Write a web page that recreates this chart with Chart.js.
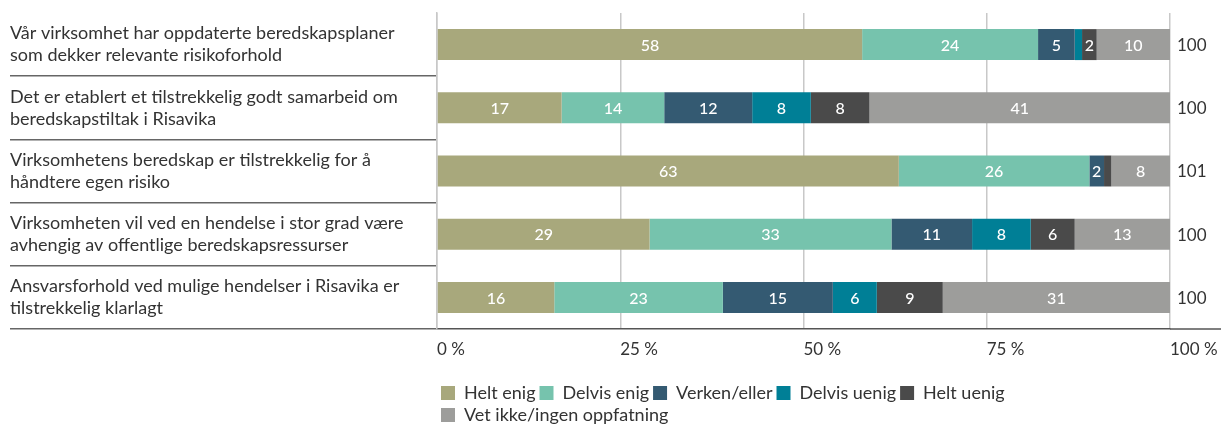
<!DOCTYPE html>
<html>
<head>
<meta charset="utf-8">
<script src="https://cdn.jsdelivr.net/npm/chart.js@4/dist/chart.umd.min.js"></script>
<style>
  html, body { margin: 0; padding: 0; background: #fff; overflow: hidden; }
  #wrap { width: 1221px; height: 434px; }
</style>
</head>
<body>
<div id="wrap"><canvas id="beredskapChart"></canvas></div>
<script>
// categories (statements)
const statements = [
    ['Vår virksomhet har oppdaterte beredskapsplaner', 'som dekker relevante risikoforhold'],
    ['Det er etablert et tilstrekkelig godt samarbeid om', 'beredskapstiltak i Risavika'],
    ['Virksomhetens beredskap er tilstrekkelig for å', 'håndtere egen risiko'],
    ['Virksomheten vil ved en hendelse i stor grad være', 'avhengig av offentlige beredskapsressurser'],
    ['Ansvarsforhold ved mulige hendelser i Risavika er', 'tilstrekkelig klarlagt']
];

// answers, percent per statement
const heltEnig     = [58, 17, 63, 29, 16];
const delvisEnig   = [24, 14, 26, 33, 23];
const verkenEller  = [5, 12, 2, 11, 15];
const delvisUenig  = [1, 8, 0, 8, 6];
const heltUenig    = [2, 8, 1, 6, 9];
const vetIkke      = [10, 41, 8, 13, 31];

// totals printed at the right of each bar
const totals = ['100', '100', '101', '100', '100'];

const xTicks = [0, 25, 50, 75, 100];

const fontFamily = 'Lato, "Open Sans", sans-serif';
Chart.defaults.font.family = fontFamily;
Chart.defaults.color = '#333';

// white numbers inside the bars
const barLabels = {
    id: 'barLabels',
    afterDatasetsDraw(chart) {
        const ctx = chart.ctx;
        ctx.save();
        ctx.fillStyle = '#fff';
        ctx.font = '500 16px ' + fontFamily;
        ctx.textAlign = 'center';
        ctx.textBaseline = 'middle';
        chart.data.datasets.forEach((ds, i) => {
            const meta = chart.getDatasetMeta(i);
            meta.data.forEach((bar, j) => {
                const v = ds.data[j];
                if (v < 2) return;
                const p = bar.getCenterPoint();
                ctx.fillText(String(v), p.x, p.y + 1);
            });
        });
        ctx.restore();
    }
};

// totals column + axis line extension to the right
const totalsColumn = {
    id: 'totalsColumn',
    afterDraw(chart) {
        const ctx = chart.ctx;
        const yScale = chart.scales.y;
        const xScale = chart.scales.x;
        ctx.save();
        ctx.fillStyle = '#333';
        ctx.font = '17px ' + fontFamily;
        ctx.textAlign = 'left';
        ctx.textBaseline = 'middle';
        totals.forEach((t, j) => {
            ctx.fillText(t, chart.chartArea.right + 7, yScale.getPixelForValue(j) + 1);
        });
        ctx.strokeStyle = '#555';
        ctx.lineWidth = 1.5;
        ctx.beginPath();
        ctx.moveTo(chart.chartArea.right, xScale.top);
        ctx.lineTo(chart.width, xScale.top);
        ctx.stroke();
        ctx.restore();
    }
};

function makeDataset(label, data, color) {
    return {
        label: label,
        data: data,
        backgroundColor: color,
        borderWidth: 0,
        barPercentage: 0.49,
        categoryPercentage: 1
    };
}

const ctx = document.getElementById('beredskapChart').getContext('2d');
const beredskapChart = new Chart(ctx, {
    type: 'bar',
    data: {
        labels: statements,
        datasets: [
            makeDataset('Helt enig', heltEnig, '#a8a87c'),
            makeDataset('Delvis enig', delvisEnig, '#76c3ad'),
            makeDataset('Verken/eller', verkenEller, '#345a72'),
            makeDataset('Delvis uenig', delvisUenig, '#007f96'),
            makeDataset('Helt uenig', heltUenig, '#4a4a4a'),
            makeDataset('Vet ikke/ingen oppfatning', vetIkke, '#9d9d9b')
        ]
    },
    plugins: [barLabels, totalsColumn],
    options: {
        indexAxis: 'y',
        responsive: true,
        maintainAspectRatio: false,
        animation: false,
        layout: {
            padding: { left: 10, right: 51, top: 13, bottom: 0 }
        },
        scales: {
            x: {
                stacked: true,
                min: 0,
                max: 100,
                afterBuildTicks: (scale) => {
                    scale.ticks = xTicks.map(v => ({ value: v }));
                },
                afterFit: (scale) => {
                    scale.height = 51;
                    scale.paddingLeft = 0;
                    scale.paddingRight = 0;
                },
                ticks: {
                    align: 'start',
                    padding: 10,
                    color: '#333',
                    font: { size: 17 },
                    callback: (v) => v + ' %'
                },
                grid: {
                    color: '#c8c8c8',
                    lineWidth: 1.5,
                    drawTicks: false
                },
                border: { color: '#555', width: 1.5 }
            },
            y: {
                stacked: true,
                afterFit: (scale) => {
                    scale.width = 427;
                    scale.paddingTop = 0;
                    scale.paddingBottom = 0;
                },
                ticks: {
                    crossAlign: 'far',
                    color: '#333',
                    font: { size: 18, lineHeight: 1.22 }
                },
                grid: {
                    offset: true,
                    drawOnChartArea: false,
                    tickLength: 427,
                    lineWidth: 1.5,
                    color: (c) => c.index === 0 ? 'rgba(0,0,0,0)' : '#666'
                },
                border: { color: '#c8c8c8', width: 1.5 }
            }
        },
        plugins: {
            legend: {
                position: 'bottom',
                align: 'start',
                fullSize: false,
                labels: {
                    boxWidth: 14,
                    boxHeight: 14,
                    padding: 4,
                    color: '#333',
                    font: { size: 18 }
                }
            },
            tooltip: { enabled: false }
        }
    }
});
</script>
</body>
</html>
